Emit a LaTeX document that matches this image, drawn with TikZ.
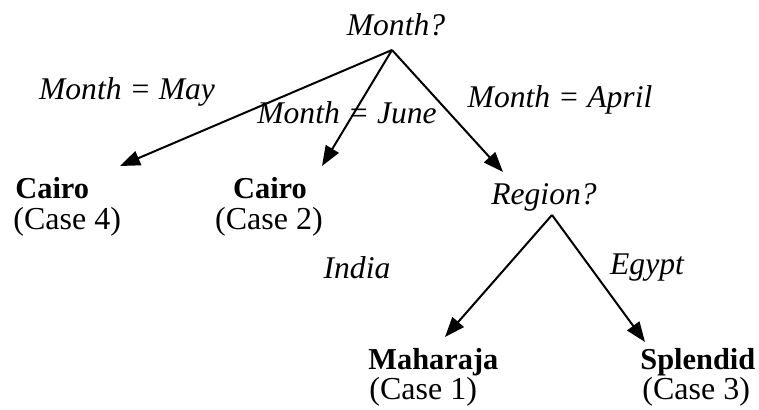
\documentclass[tikz,border=0pt]{standalone}
\usepackage{fontspec}
\setmainfont{Liberation Serif}
\usetikzlibrary{arrows.meta}
\begin{document}
\begin{tikzpicture}[x=0.5pt,y=-0.5pt,
  txt/.style={inner sep=0pt,font=\fontsize{16pt}{17pt}\selectfont},
  question/.style={txt,font=\fontsize{15.8pt}{17pt}\selectfont\itshape},
  edgelabel/.style={txt,font=\fontsize{15.8pt}{17pt}\selectfont\itshape},
  leafname/.style={txt,font=\fontsize{15.2pt}{17pt}\selectfont\bfseries},
  casetag/.style={txt},
  branch/.style={line width=1pt,-{Triangle[length=10pt,width=7.5pt]}}]
  \useasboundingbox (0,0) rectangle (759,410);

  % decision nodes
  \node[question] (month) at (396,25) {Month?};
  \node[question] (region) at (544,197) {Region?};
  \coordinate (mroot) at (392,50);
  \coordinate (rroot) at (552,215);

  % leaves: outcome and its case number
  \node[leafname,anchor=base west] (cairoA) at (15,199) {Cairo};
  \node[casetag,anchor=base west] (caseA) at (13,230) {(Case 4)};
  \node[leafname,anchor=base] (cairoB) at (270,199) {Cairo};
  \node[casetag,anchor=base] (caseB) at (269,230) {(Case 2)};
  \node[leafname,anchor=base west] (maharaja) at (368,370) {Maharaja};
  \node[casetag,anchor=base west] (caseM) at (369,400) {(Case 1)};
  \node[leafname,anchor=base west] (splendid) at (640,370) {Splendid};
  \node[casetag,anchor=base west] (caseS) at (642,400) {(Case 3)};

  % arrow tips above the leaves
  \coordinate (tipA) at (120,166);
  \coordinate (tipB) at (322,166);
  \coordinate (tipR) at (503,172);
  \coordinate (tipM) at (445,337);
  \coordinate (tipS) at (645,342);

  % branches
  \draw[branch] (mroot) -- (tipA);
  \draw[branch] (mroot) -- (tipB);
  \draw[branch] (mroot) -- (tipR);
  \draw[branch] (rroot) -- (tipM);
  \draw[branch] (rroot) -- (tipS);

  % branch labels
  \node[edgelabel] (lmay) at (127,92) {Month = May};
  \node[edgelabel] (ljune) at (347,113) {Month = June};
  \node[edgelabel] (lapril) at (560,100) {Month = April};
  \node[edgelabel] (lindia) at (357,268) {India};
  \node[edgelabel] (legypt) at (647,268) {Egypt};
\end{tikzpicture}
\end{document}
